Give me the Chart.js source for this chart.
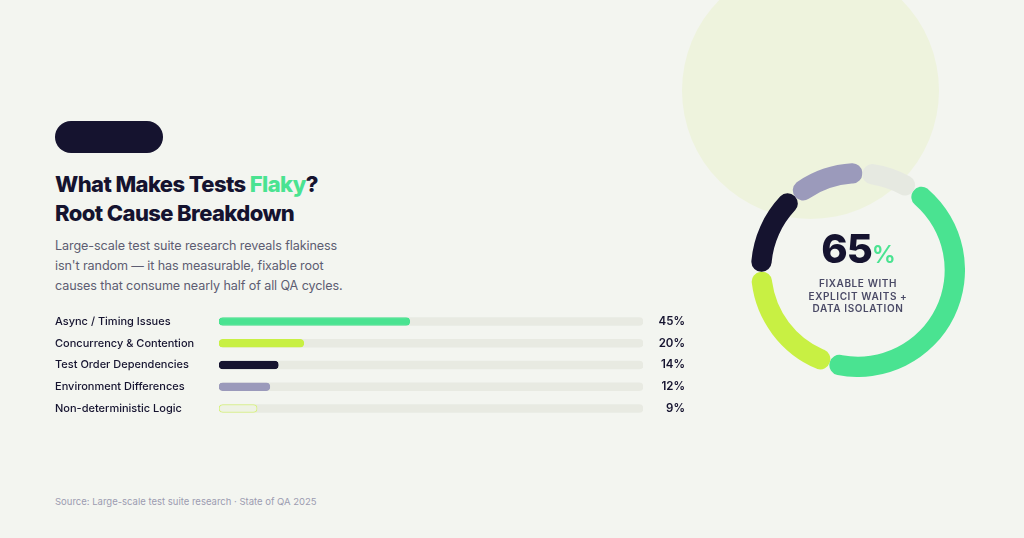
<!DOCTYPE html>
<html>
<head>
<meta charset="utf-8">
<script src="https://cdn.jsdelivr.net/npm/chart.js@4"></script>
<style>
  html, body { margin: 0; padding: 0; }
  body {
    width: 1024px; height: 538px; overflow: hidden; position: relative;
    background: #f3f5f0; font-family: Inter, "Noto Sans", sans-serif; color: #15132f;
  }
  .blob { position: absolute; left: 682px; top: -38px; width: 257px; height: 257px;
    border-radius: 50%; background: #eef3dd; }
  .pill { position: absolute; left: 55px; top: 121px; width: 108px; height: 32px;
    border-radius: 16px; background: #15132f; }
  h1 { position: absolute; left: 55px; top: 170px; margin: 0; font-size: 22px;
    line-height: 29px; font-weight: 800; letter-spacing: -0.6px; }
  h1 span { color: #4ae391; }
  .sub { position: absolute; left: 55px; top: 236px; margin: 0; font-size: 12.6px;
    line-height: 20px; color: #5d5d72; width: 300px; letter-spacing: -0.1px; }
  .src { position: absolute; left: 55px; top: 496px; font-size: 9.5px; color: #9c9cb0; }
  #barWrap { position: absolute; left: 55px; top: 304px; width: 635px; height: 122px; }
  #donutWrap { position: absolute; left: 751px; top: 163px; width: 214px; height: 214px; }
  .center { position: absolute; left: 751px; top: 228px; width: 214px; text-align: center; }
  .big { font-size: 40px; font-weight: 800; line-height: 42px; letter-spacing: -1px; }
  .big span { color: #4ae391; font-size: 24px; font-weight: 600; }
  .cap { font-size: 10px; font-weight: 600; letter-spacing: 0.6px; color: #4a4a66; line-height: 12.5px; margin-top: 1px; }
</style>
</head>
<body>
<div class="blob"></div>
<div class="pill"></div>
<h1>What Makes Tests <span>Flaky</span>?<br>Root Cause Breakdown</h1>
<p class="sub">Large-scale test suite research reveals flakiness<br>isn't random — it has measurable, fixable root<br>causes that consume nearly half of all QA cycles.</p>
<div id="barWrap"><canvas id="bars"></canvas></div>
<div id="donutWrap"><canvas id="donut"></canvas></div>
<div class="center">
  <div class="big">65<span>%</span></div>
  <div class="cap">FIXABLE WITH<br>EXPLICIT WAITS +<br>DATA ISOLATION</div>
</div>
<div class="src">Source: Large-scale test suite research · State of QA 2025</div>
<script>
const causes = ["Async / Timing Issues", "Concurrency & Contention", "Test Order Dependencies", "Environment Differences", "Non-deterministic Logic"];
const shares = [45, 20, 14, 12, 9];
const barColors = ["#4ae391", "#c8f043", "#15132f", "#9b9abb", "#eef2e4"];
const barBorders = ["#4ae391", "#c8f043", "#15132f", "#9b9abb", "#d6f27a"];
const trackColor = "#e8eae2";

const ringValues = [45, 20, 14, 12, 9];
const ringColors = ["#4ae391", "#c8f043", "#15132f", "#9b9abb", "#e6e9e1"];

const percentLabels = {
  id: "percentLabels",
  afterDraw(chart) {
    const { ctx } = chart;
    const meta = chart.getDatasetMeta(1);
    ctx.save();
    ctx.font = "600 11.5px Inter";
    ctx.fillStyle = "#15132f";
    ctx.textAlign = "right";
    ctx.textBaseline = "middle";
    meta.data.forEach((bar, i) => {
      ctx.fillText(shares[i] + "%", 630, bar.y);
    });
    ctx.restore();
  },
};

new Chart(document.getElementById("bars"), {
  type: "bar",
  data: {
    labels: causes,
    datasets: [
      {
        data: causes.map(() => 100),
        backgroundColor: trackColor,
        borderRadius: 5,
        borderSkipped: false,
        barThickness: 8,
        grouped: false,
        order: 2,
      },
      {
        data: shares,
        backgroundColor: barColors,
        borderColor: barBorders,
        borderWidth: 1,
        borderRadius: 5,
        borderSkipped: false,
        barThickness: 8,
        grouped: false,
        order: 1,
      },
    ],
  },
  options: {
    indexAxis: "y",
    responsive: true,
    maintainAspectRatio: false,
    animation: false,
    layout: { padding: { right: 47 } },
    plugins: { legend: { display: false }, tooltip: { enabled: false } },
    scales: {
      x: { min: 0, max: 100, display: false },
      y: {
        grid: { display: false },
        border: { display: false },
        afterFit: (scale) => { scale.width = 164; },
        ticks: {
          crossAlign: "far",
          padding: 0,
          color: "#15132f",
          font: { family: "Inter", size: 11, weight: "500" },
        },
      },
    },
  },
  plugins: [percentLabels],
});

new Chart(document.getElementById("donut"), {
  type: "doughnut",
  data: {
    datasets: [
      {
        data: ringValues,
        backgroundColor: ringColors,
        borderWidth: 0,
        borderRadius: 10,
      },
    ],
  },
  options: {
    responsive: true,
    maintainAspectRatio: false,
    animation: false,
    cutout: "81%",
    rotation: 35,
    plugins: { legend: { display: false }, tooltip: { enabled: false } },
  },
});
</script>
</body>
</html>
